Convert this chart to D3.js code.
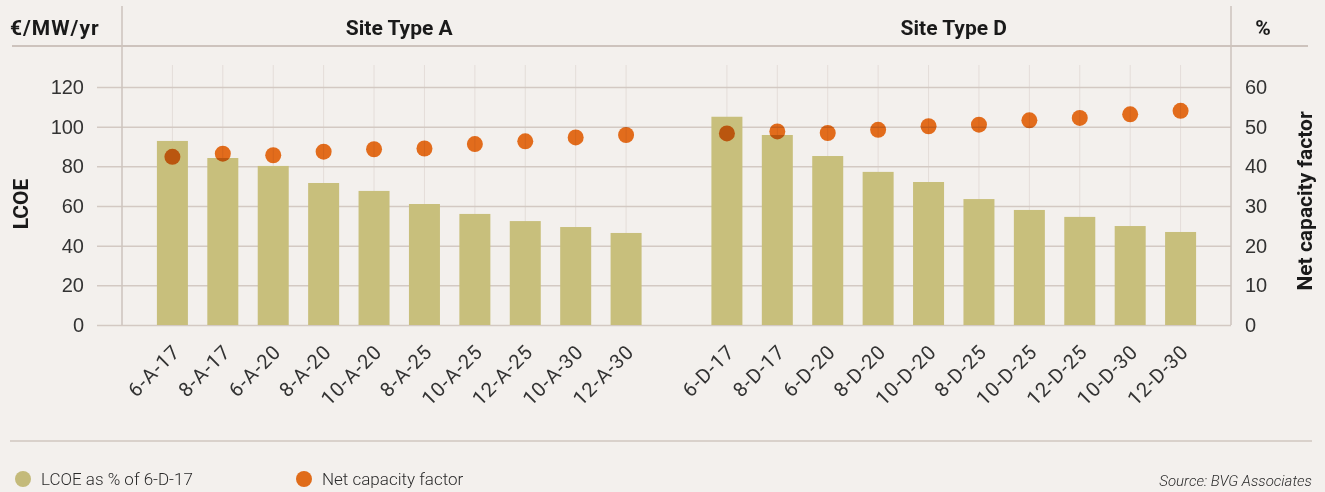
<!DOCTYPE html>
<html>
<head>
<meta charset="utf-8">
<script src="https://cdn.jsdelivr.net/npm/d3@7"></script>
<style>
  body { margin: 0; background: #f3f0ed; }
  svg { display: block; font-family: Roboto, "Noto Sans", sans-serif; }
  .tick-label { font-size: 20px; font-weight: 400; fill: #333333; }
  .title { font-size: 21px; font-weight: 700; fill: #1a1a1a; }
</style>
</head>
<body>
<svg width="1325" height="492"></svg>
<script>
const width = 1325;
const height = 492;

// data
const catsA = ["6-A-17", "8-A-17", "6-A-20", "8-A-20", "10-A-20", "8-A-25", "10-A-25", "12-A-25", "10-A-30", "12-A-30"];
const catsD = ["6-D-17", "8-D-17", "6-D-20", "8-D-20", "10-D-20", "8-D-25", "10-D-25", "12-D-25", "10-D-30", "12-D-30"];
const lcoeA = [92.8, 84.2, 80.2, 71.6, 67.6, 61.0, 56.0, 52.4, 49.4, 46.4];
const lcoeD = [105, 95.8, 85.2, 77.2, 72.1, 63.5, 58.0, 54.5, 49.9, 46.9];
const cfA = [42.4, 43.2, 42.8, 43.7, 44.3, 44.5, 45.6, 46.3, 47.3, 47.9];
const cfD = [48.3, 48.8, 48.4, 49.2, 50.1, 50.5, 51.6, 52.2, 53.1, 54.0];
const leftTicks = [0, 20, 40, 60, 80, 100, 120];
const rightTicks = [0, 10, 20, 30, 40, 50, 60];

const plotLeft = 122, plotRight = 1231, plotTop = 87, plotBottom = 325;

const svg = d3.select('svg');

const domain = catsA.concat(["gap"], catsD);
const x = d3.scalePoint().domain(domain).range([plotLeft, plotRight]).padding(1);
const yL = d3.scaleLinear().domain([0, 120]).range([plotBottom, plotTop]);
const yR = d3.scaleLinear().domain([0, 60]).range([plotBottom, plotTop]);

const rows = catsA.map((c, i) => ({cat: c, lcoe: lcoeA[i], cf: cfA[i]}))
    .concat(catsD.map((c, i) => ({cat: c, lcoe: lcoeD[i], cf: cfD[i]})));

// header / footer rules
svg.append('line').attr('x1', 12).attr('x2', 1308).attr('y1', 46).attr('y2', 46)
    .attr('stroke', '#cdc3bd').attr('stroke-width', 2);
svg.append('line').attr('x1', 10).attr('x2', 1312).attr('y1', 441).attr('y2', 441)
    .attr('stroke', '#d9d1cb').attr('stroke-width', 2);

// vertical gridlines at each category
svg.append('g').selectAll('line').data(rows).enter().append('line')
    .attr('x1', d => x(d.cat)).attr('x2', d => x(d.cat))
    .attr('y1', 65).attr('y2', plotBottom)
    .attr('stroke', '#e4ddd9').attr('stroke-width', 1);

// horizontal gridlines (left axis)
const gridAxis = d3.axisLeft(yL).tickValues(leftTicks).tickSize(plotRight - 97).tickFormat('');
svg.append('g').attr('transform', 'translate(' + plotRight + ',0)')
    .call(gridAxis)
    .call(g => g.select('.domain').remove())
    .call(g => g.selectAll('line').attr('stroke', '#d3c9c3').attr('stroke-width', 1.5));

// frame verticals
[plotLeft, plotRight].forEach(v => {
    svg.append('line').attr('x1', v).attr('x2', v).attr('y1', 6).attr('y2', plotBottom)
        .attr('stroke', '#cdc3bd').attr('stroke-width', 1.5);
});

// left axis labels
const leftAxis = d3.axisLeft(yL).tickValues(leftTicks).tickSize(0).tickPadding(0);
svg.append('g').attr('transform', 'translate(84,0)')
    .call(leftAxis)
    .call(g => g.select('.domain').remove())
    .call(g => g.selectAll('text').attr('class', 'tick-label').attr('font-family', null).attr('font-size', null).attr('fill', null));

// right axis labels
const rightAxis = d3.axisRight(yR).tickValues(rightTicks).tickSize(0).tickPadding(0);
svg.append('g').attr('transform', 'translate(1245,0)')
    .call(rightAxis)
    .call(g => g.select('.domain').remove())
    .call(g => g.selectAll('text').attr('class', 'tick-label').attr('font-family', null).attr('font-size', null).attr('fill', null));

// bars
const barW = 31;
svg.append('g').selectAll('rect').data(rows).enter().append('rect')
    .attr('x', d => x(d.cat) - barW / 2)
    .attr('width', barW)
    .attr('y', d => yL(d.lcoe))
    .attr('height', d => plotBottom - yL(d.lcoe))
    .attr('fill', '#c8bf7c');

// dots
svg.append('g').selectAll('circle').data(rows).enter().append('circle')
    .attr('cx', d => x(d.cat))
    .attr('cy', d => yR(d.cf))
    .attr('r', 8)
    .attr('fill', '#ee731e')
    .style('mix-blend-mode', 'multiply');

// category labels
svg.append('g').selectAll('text').data(rows).enter().append('text')
    .attr('class', 'tick-label')
    .attr('text-anchor', 'end')
    .attr('letter-spacing', 1)
    .attr('transform', d => 'translate(' + (x(d.cat) + 9) + ',353) rotate(-45)')
    .text(d => d.cat);

// titles
svg.append('text').attr('class', 'title').attr('x', 10).attr('y', 35)
    .attr('letter-spacing', 1).text('€/MW/yr');
svg.append('text').attr('class', 'title').attr('text-anchor', 'middle')
    .attr('x', (x(catsA[0]) + x(catsA[9])) / 2).attr('y', 35).text('Site Type A');
svg.append('text').attr('class', 'title').attr('text-anchor', 'middle')
    .attr('x', (x(catsD[0]) + x(catsD[9])) / 2).attr('y', 35).text('Site Type D');
svg.append('text').attr('class', 'title').attr('text-anchor', 'middle')
    .attr('x', 1263).attr('y', 35).text('%');
svg.append('text').attr('class', 'title').attr('text-anchor', 'middle')
    .attr('transform', 'translate(28,204) rotate(-90)').text('LCOE');
svg.append('text').attr('class', 'title').attr('text-anchor', 'middle')
    .attr('transform', 'translate(1312,201) rotate(-90)').text('Net capacity factor');

// legend
const legend = [
    {label: 'LCOE as % of 6-D-17', color: '#c4ba7a', x: 23},
    {label: 'Net capacity factor', color: '#e06c1a', x: 304}
];
const lg = svg.append('g').selectAll('g').data(legend).enter().append('g');
lg.append('circle').attr('cx', d => d.x).attr('cy', 479).attr('r', 8).attr('fill', d => d.color);
lg.append('text').attr('x', d => d.x + 18).attr('y', 485)
    .style('font-size', '17px').style('font-weight', 300).attr('fill', '#2b2b2b')
    .text(d => d.label);

svg.append('text').attr('x', 1312).attr('y', 486).attr('text-anchor', 'end')
    .style('font-size', '15px').style('font-style', 'italic').style('font-weight', 300)
    .attr('fill', '#2b2b2b').text('Source: BVG Associates');
</script>
</body>
</html>
